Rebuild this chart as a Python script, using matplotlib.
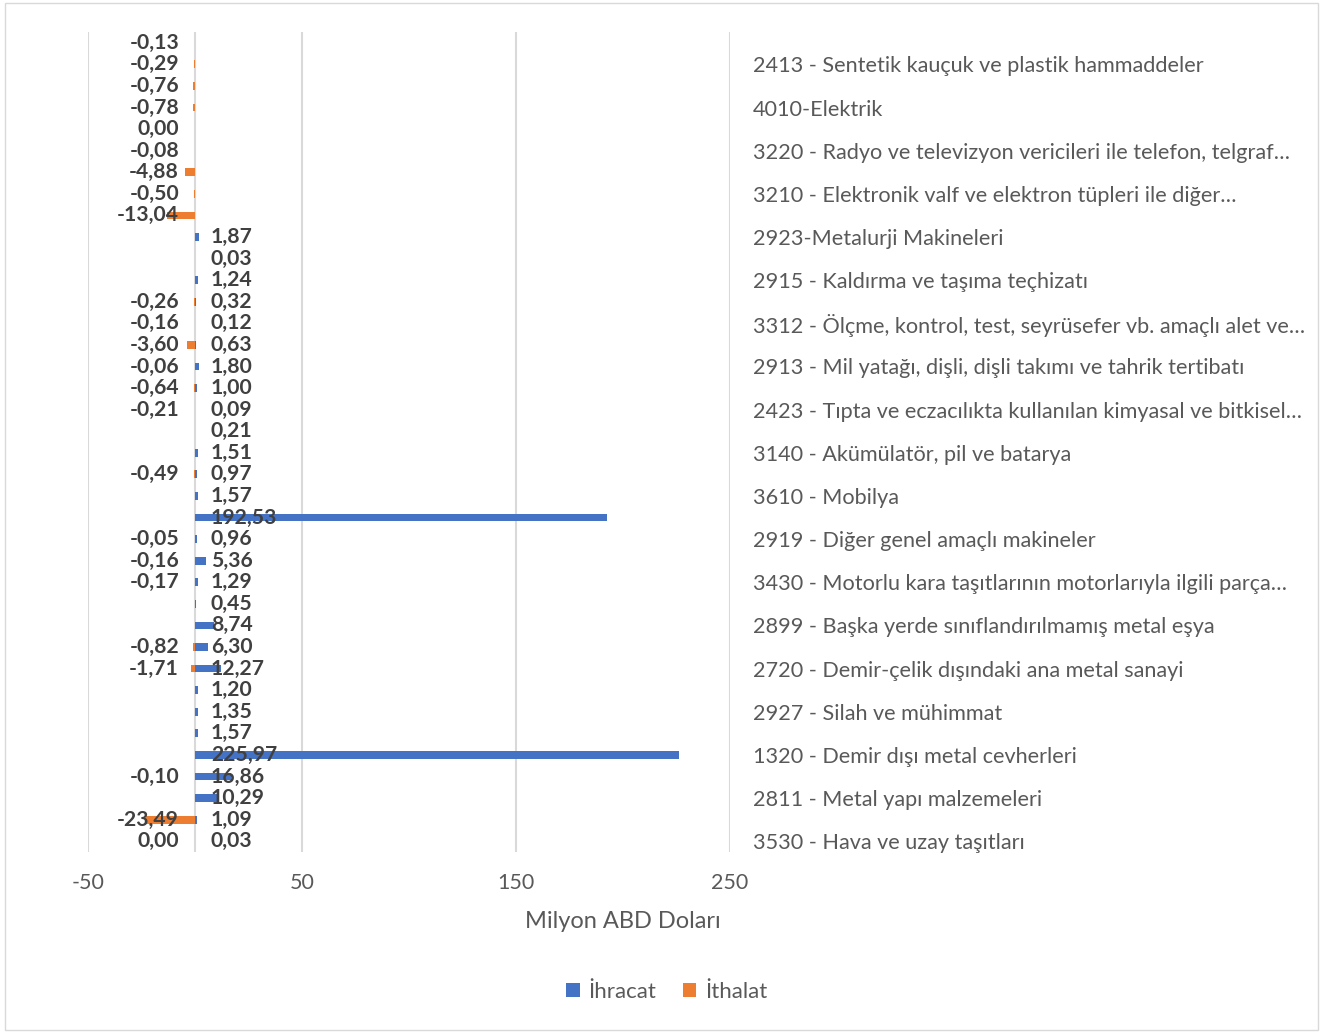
import matplotlib.pyplot as plt
import numpy as np
from matplotlib.patches import Patch, Rectangle

plt.rcParams['font.family'] = ['Lato', 'DejaVu Sans']

# rows from top to bottom; only every other category name is shown in the chart
categories = [
    "", "2413 - Sentetik kauçuk ve plastik hammaddeler",
    "", "4010-Elektrik",
    "", "3220 - Radyo ve televizyon vericileri ile telefon, telgraf…",
    "", "3210 - Elektronik valf ve elektron tüpleri ile diğer…",
    "", "2923-Metalurji Makineleri",
    "", "2915 - Kaldırma ve taşıma teçhizatı",
    "", "3312 - Ölçme, kontrol, test, seyrüsefer vb. amaçlı alet ve…",
    "", "2913 - Mil yatağı, dişli, dişli takımı ve tahrik tertibatı",
    "", "2423 - Tıpta ve eczacılıkta kullanılan kimyasal ve bitkisel…",
    "", "3140 - Akümülatör, pil ve batarya",
    "", "3610 - Mobilya",
    "", "2919 - Diğer genel amaçlı makineler",
    "", "3430 - Motorlu kara taşıtlarının motorlarıyla ilgili parça…",
    "", "2899 - Başka yerde sınıflandırılmamış metal eşya",
    "", "2720 - Demir-çelik dışındaki ana metal sanayi",
    "", "2927 - Silah ve mühimmat",
    "", "1320 - Demir dışı metal cevherleri",
    "", "2811 - Metal yapı malzemeleri",
    "", "3530 - Hava ve uzay taşıtları",
]

nan = np.nan
ihracat = [nan, nan, nan, nan, nan, nan, nan, nan, nan,
           1.87, 0.03, 1.24, 0.32, 0.12, 0.63, 1.80, 1.00, 0.09, 0.21,
           1.51, 0.97, 1.57, 192.53, 0.96, 5.36, 1.29, 0.45, 8.74, 6.30,
           12.27, 1.20, 1.35, 1.57, 225.97, 16.86, 10.29, 1.09, 0.03]
ithalat = [-0.13, -0.29, -0.76, -0.78, 0.00, -0.08, -4.88, -0.50, -13.04,
           nan, nan, nan, -0.26, -0.16, -3.60, -0.06, -0.64, -0.21, nan,
           nan, -0.49, nan, nan, -0.05, -0.16, -0.17, nan, nan, -0.82,
           -1.71, nan, nan, nan, nan, -0.10, nan, -23.49, 0.00]

blue = '#4472C4'
orange = '#ED7D31'
grey_text = '#595959'
label_col = '#404040'

W, H = 1330, 1033
fig = plt.figure(figsize=(W / 100, H / 100), dpi=100)
ax = fig.add_axes([88 / W, 1 - 852 / H, (730 - 88) / W, (852 - 32) / H])

y = np.arange(len(categories))
ax.barh(y, ihracat, height=0.36, color=blue, zorder=3)
ax.barh(y, ithalat, height=0.36, color=orange, zorder=3)

ax.set_xlim(-50, 250)
ax.set_ylim(len(categories) - 0.5, -0.5)
ax.set_xticks([-50, 50, 150, 250])
ax.set_xticklabels(['-50', '50', '150', '250'])
ax.grid(axis='x', color='#D9D9D9', linewidth=1.5, zorder=0)
ax.axvline(0, color='#D9D9D9', linewidth=1.5, zorder=1)
for s in ax.spines.values():
    s.set_visible(False)

shown = [i for i, c in enumerate(categories) if c]
ax.yaxis.tick_right()
ax.set_yticks(shown)
ax.set_yticklabels([categories[i] for i in shown])
ax.tick_params(axis='y', length=0, pad=16.5, labelsize=15.6, labelcolor=grey_text)
ax.tick_params(axis='x', length=0, pad=15, labelsize=15.5, labelcolor=grey_text)
for lbl in ax.get_yticklabels():
    lbl.set_horizontalalignment('left')


def fmt(v):
    return f"{v:.2f}".replace('.', ',')


for i in y:
    if not np.isnan(ihracat[i]):
        ax.annotate(fmt(ihracat[i]), xy=(0, i), xytext=(11.5, 0), textcoords='offset points',
                    ha='left', va='center', fontsize=15.2, fontweight='bold', color=label_col, zorder=4)
    if not np.isnan(ithalat[i]):
        ax.annotate(fmt(ithalat[i]), xy=(0, i), xytext=(-11.5, 0), textcoords='offset points',
                    ha='right', va='center', fontsize=15.2, fontweight='bold', color=label_col, zorder=4)

fig.text(623 / W, 1 - 921 / H, 'Milyon ABD Doları', ha='center', va='center',
         fontsize=17, color=grey_text)

handles = [Patch(facecolor=blue, label='İhracat'), Patch(facecolor=orange, label='İthalat')]
fig.legend(handles=handles, loc='center', bbox_to_anchor=(667 / W, 1 - 992 / H), ncol=2,
           frameon=False, fontsize=16, labelcolor=grey_text, handlelength=0.6,
           handleheight=0.6, handletextpad=0.4, columnspacing=1.2)

fig.add_artist(Rectangle((5 / W, 1 - 1030 / H), (1318 - 5) / W, (1030 - 3) / H,
                         transform=fig.transFigure, fill=False, edgecolor='#D9D9D9', linewidth=1))

fig.savefig('out.png', dpi=100, facecolor='white')
